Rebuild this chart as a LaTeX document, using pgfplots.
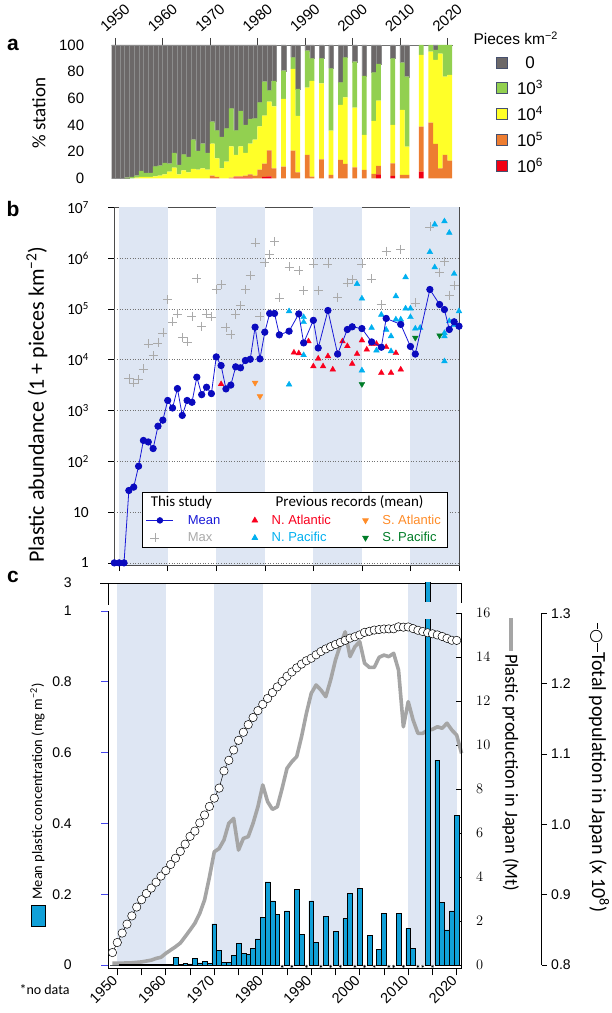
\documentclass[border=0pt]{standalone}
\usepackage{pgfplots}
\pgfplotsset{compat=1.18}
\usepackage{pgfplotstable}
\usepackage{fontspec}
\setmainfont{Liberation Sans}
\newfontfamily\calib{Carlito}
\newfontfamily\dejavu{DejaVu Sans}
\newcommand\fs[1]{\fontsize{#1}{#1}\selectfont}

\definecolor{band}{RGB}{222,230,243}
\definecolor{cgray}{RGB}{108,104,104}
\definecolor{cgreen}{RGB}{146,208,80}
\definecolor{cyellow}{RGB}{255,255,40}
\definecolor{corange}{RGB}{237,125,49}
\definecolor{cred}{RGB}{240,0,20}
\definecolor{legborder}{RGB}{70,80,110}
\definecolor{meanblue}{RGB}{25,25,215}
\definecolor{meandot}{RGB}{10,10,190}
\definecolor{natl}{RGB}{250,0,30}
\definecolor{npac}{RGB}{0,176,240}
\definecolor{satl}{RGB}{255,140,40}
\definecolor{spac}{RGB}{0,125,40}
\definecolor{maxgray}{RGB}{170,170,170}
\definecolor{barblue}{RGB}{16,160,216}
\definecolor{prodgray}{RGB}{165,165,165}
\definecolor{tickblue}{RGB}{70,70,235}

\pgfplotsset{
  sqleg/.style={legend image code/.code={\draw[##1,draw=legborder,line width=0.8pt] (0pt,-5.5pt) rectangle (11pt,5.5pt);}},
  meanleg/.style={legend image code/.code={\draw[mark repeat=2,mark phase=2,##1] plot coordinates {(0pt,0pt) (13.5pt,0pt) (27pt,0pt)};}},
}

% ---------- panel a: share of stations per abundance class (%)
\pgfplotstableread{
year red orange yellow green gray
1949 0 0 0 0 100
1950 0 0 0 0 100
1951 0 0 0 0 100
1952 0 0 0 0.5 99.5
1953 0 0 0 1 99
1954 0 0 0.5 1.5 98
1955 0 0 1 4.5 94.5
1956 0 0 1 3 96
1957 0 0 1 3 96
1958 0 0 1.5 7.5 91
1959 0 0 2 7.5 90.5
1960 0 0 3 8.5 88.5
1961 0 0 5 6 89
1962 0 0 8 11 81
1963 0 0 3 7 90
1964 0 0 6 12 82
1965 0 0 4.5 11.5 84
1966 0 0 7 22 71
1967 0 0 6.5 14 79.5
1968 0 0 7.5 18.5 74
1969 0 0 6.5 12.5 81
1970 0 2 24 16.5 57.5
1971 0 1 14 21 64
1972 0 0 7.5 23.5 69
1973 0 0 12.5 25 62.5
1974 0 0.5 23.5 28.5 47.5
1975 0.5 1 16 18.5 64
1976 0.5 1 22.5 26.5 49.5
1977 0.5 1.5 17 21 60
1978 0.5 2.5 23 18.5 55.5
1979 0 2 27 16 55
1980 0 6.5 32.5 18 43
1981 1 10 36 25.5 27.5
1982 1.5 19.5 36.5 8.5 34
1983 0 7.5 46.5 19 27
1985 0 8.75 50.75 21.25 19.25
1987 0 20.75 61.25 8.75 9.25
1988 0 4.5 42.25 20.25 33
1990 0 17.5 50.5 27.75 4.25
1991 0 1.25 71.75 17 10
1993 0 14.25 57 18.75 10
1995 0 2.5 33.25 46.75 17.5
1997 0 13.75 41.25 17 28
1998 0 10.75 50 30 9.25
2000 0 8.25 44.75 34.5 12.5
2002 0 6.25 26.25 44.25 23.25
2004 0 3.25 39.75 36.5 20.5
2005 3 6.25 49 27.5 14.25
2008 1.75 9.5 28.75 50 10
2010 0 2.5 48.75 35.5 13.25
2011 0 2.5 21.25 52.5 23.75
2014 5 33.75 53.75 7.5 0
2016 0 41.75 53.25 5 0
2017 0 25.75 63 7.5 3.75
2018 0 7.5 86 6.5 0
2019 0 17.5 58.75 23.75 0
2020 0 13.25 64.25 22.5 0
}\stackdata

% ---------- panel b: 1 + pieces km^-2
\pgfplotstableread{
year v
1949 1
1950 1
1951 1
1952 26.6
1953 31
1954 80
1955 257
1956 240
1957 178
1958 491
1959 645
1960 1575
1961 1120
1962 2700
1963 800
1964 1575
1965 1450
1966 4520
1967 2050
1968 2870
1969 2150
1970 11350
1971 7680
1972 2660
1973 3160
1974 7240
1975 6920
1976 9640
1977 10200
1978 43700
1979 10370
1980 34800
1981 81300
1982 81300
1983 30800
1985 36400
1987 79800
1988 21400
1990 59500
1991 17000
1993 93000
1995 12900
1997 39300
1998 44400
2000 41000
2002 22400
2004 17600
2005 64900
2008 49500
2010 18200
2011 12900
2014 241000
2016 122000
2017 97000
2018 39300
2019 55700
2020 45600
}\meandata

\pgfplotstableread{
year v
1952 4300
1953 3500
1954 4100
1955 6600
1956 20500
1957 12000
1958 21400
1959 33700
1960 153000
1961 55700
1962 79800
1963 27600
1964 22400
1965 71800
1966 396000
1967 45600
1968 79800
1969 69800
1970 241000
1971 302000
1972 43700
1973 32000
1974 77500
1975 116000
1976 241000
1977 460000
1978 2000000
1979 71800
1980 811000
1981 1180000
1982 2140000
1983 165000
1985 673000
1987 576000
1988 230000
1990 769000
1991 230000
1993 769000
1995 170000
1997 325000
1998 380000
2000 769000
2002 390000
2004 123000
2005 1370000
2008 1500000
2011 131000
2014 4100000
2016 530000
2017 870000
2018 186000
2019 293000
}\maxdata

\pgfplotstableread{
year v
1971 3300
1986 13800
1987 13400
1989 23000
1990 7400
1991 10500
1992 7400
1993 11700
1994 6400
1995 13000
1996 23000
1997 18500
1998 8300
1999 13000
2000 24000
2001 15800
2002 20500
2003 20500
2004 5500
2005 17700
2006 5500
2007 13500
2008 6400
}\natldata

\pgfplotstableread{
year v
1985 90000
1985 3250
1988 69000
1988 55000
1988 12300
1999 310000
2000 160000
2000 6150
2002 42500
2003 15200
2004 77000
2005 39000
2006 29000
2006 14700
2007 178000
2007 62000
2008 62000
2009 420000
2009 102000
2010 102000
2010 69000
2011 41000
2012 42500
2014 1320000
2015 4600000
2015 660000
2017 5300000
2017 33500
2017 29000
2017 9300
2018 3150000
2018 57500
2019 490000
2019 55000
2019 48000
2020 90000
}\npacdata

\pgfplotstableread{
year v
1978 3500
1979 1900
}\satldata

\pgfplotstableread{
year v
2000 3300
2011 27000
2016 30000
}\spacdata

% ---------- panel c
\pgfplotstableread{
year v
1949 0
1950 0
1951 0.001
1952 0.002
1953 0.002
1954 0.001
1955 0.001
1956 0.001
1957 0.001
1958 0.001
1959 0.001
1960 0.001
1961 0.002
1962 0.022
1963 0.002
1964 0.004
1965 0.003
1966 0.019
1967 0.006
1968 0.011
1969 0.005
1970 0.116
1971 0.042
1972 0.008
1973 0.008
1974 0.028
1975 0.061
1976 0.033
1977 0.030
1978 0.047
1979 0.074
1980 0.134
1981 0.235
1982 0.181
1983 0.144
1985 0.153
1987 0.214
1988 0.087
1990 0.181
1991 0.064
1993 0.137
1995 0.096
1997 0.131
1998 0.202
2000 0.217
2002 0.083
2004 0.044
2005 0.145
2008 0.145
2010 0.103
2011 0.047
2014 3.0
2016 0.579
2017 0.176
2018 0.099
2019 0.153
2020 0.423
}\concdata

\pgfplotstableread{
year v
1984 -0.004
1986 -0.004
1989 -0.004
1992 -0.004
1994 -0.004
1996 -0.004
1999 -0.004
2001 -0.004
2003 -0.004
2006 -0.004
2007 -0.004
2009 -0.004
2012 -0.004
2013 -0.004
2015 -0.004
}\nodata

\pgfplotstableread{
year v
1949 0.08
1950 0.08
1951 0.08
1952 0.1
1953 0.1
1954 0.12
1955 0.14
1956 0.18
1957 0.22
1958 0.3
1959 0.35
1960 0.53
1961 0.68
1962 0.83
1963 1.0
1964 1.29
1965 1.59
1966 1.9
1967 2.35
1968 2.96
1969 4.0
1970 5.15
1971 5.3
1972 5.69
1973 6.45
1974 6.67
1975 5.23
1976 5.76
1977 5.84
1978 6.45
1979 7.2
1980 8.19
1981 7.43
1982 7.08
1983 7.2
1984 8.04
1985 8.95
1986 9.25
1987 9.48
1988 10.39
1989 11.45
1990 12.36
1991 12.74
1992 12.51
1993 12.21
1994 12.97
1995 13.88
1996 14.56
1997 15.16
1998 14.03
1999 14.48
2000 14.71
2001 13.73
2002 13.54
2003 13.54
2004 14.0
2005 14.1
2006 14.03
2007 14.18
2008 13.42
2009 10.84
2010 11.98
2011 11.15
2012 10.54
2013 10.54
2014 10.69
2015 10.72
2016 10.84
2017 10.77
2018 11.0
2019 10.69
2020 10.46
2021 9.63
}\plasticdata

\pgfplotstableread{
year v
1949 0.8177
1950 0.8320
1951 0.8454
1952 0.8581
1953 0.8698
1954 0.8824
1955 0.8928
1956 0.9017
1957 0.9093
1958 0.9177
1959 0.9264
1960 0.9342
1961 0.9429
1962 0.9518
1963 0.9616
1964 0.9718
1965 0.9828
1966 0.9904
1967 1.0020
1968 1.0133
1969 1.0254
1970 1.0372
1971 1.0515
1972 1.0760
1973 1.0910
1974 1.1057
1975 1.1194
1976 1.1309
1977 1.1417
1978 1.1519
1979 1.1616
1980 1.1706
1981 1.1790
1982 1.1873
1983 1.1954
1984 1.2031
1985 1.2105
1986 1.2166
1987 1.2224
1988 1.2278
1989 1.2326
1990 1.2361
1991 1.2410
1992 1.2457
1993 1.2494
1994 1.2526
1995 1.2557
1996 1.2586
1997 1.2616
1998 1.2647
1999 1.2667
2000 1.2693
2001 1.2729
2002 1.2744
2003 1.2762
2004 1.2769
2005 1.2777
2006 1.2779
2007 1.2780
2008 1.2808
2009 1.2803
2010 1.2806
2011 1.2783
2012 1.2759
2013 1.2741
2014 1.2724
2015 1.2709
2016 1.2693
2017 1.2671
2018 1.2644
2019 1.2617
2020 1.2615
}\popdata

\begin{document}
\begin{tikzpicture}
\useasboundingbox (0pt,0pt) rectangle (612pt,1013pt);

% ======================= panel a
\begin{axis}[
  at={(111.7pt,834.7pt)}, anchor=south west,
  scale only axis, width=341.3pt, height=133.3pt,
  xmin=1949.3, xmax=2021.2, ymin=0, ymax=100,
  ybar stacked, bar width=1,
  axis x line*=top, axis y line*=left,
  y axis line style={draw=none},
  x axis line style={black!55, line width=0.6pt},
  tick align=outside, major tick length=7pt,
  xtick={1950,1960,1970,1980,1990,2000,2010,2020},
  xticklabels={1950,1960,1970,1980,1990,2000,2010,2020},
  xtick style={black!75, line width=0.6pt},
  xticklabel style={font=\fs{15}, yshift=20pt, rotate=42, anchor=center},
  ytick={0,20,40,60,80,100},
  yticklabels={0,20,40,60,80,100},
  ytick style={draw=none},
  yticklabel style={font=\fs{15}, anchor=east, xshift=-17pt},
  legend style={at={(1.126,0.93)}, anchor=north west, draw=none, fill=none, font=\fs{17}, row sep=6pt, inner sep=0pt,
    /tikz/every odd column/.append style={column sep=7pt}},
  legend cell align=center,
  reverse legend,
]
\addplot[fill=cred, draw=none, sqleg] table[x expr=\thisrow{year}+0.5, y=red] {\stackdata};
\addlegendentry{10\textsuperscript{6}}
\addplot[fill=corange, draw=none, sqleg] table[x expr=\thisrow{year}+0.5, y=orange] {\stackdata};
\addlegendentry{10\textsuperscript{5}}
\addplot[fill=cyellow, draw=none, sqleg] table[x expr=\thisrow{year}+0.5, y=yellow] {\stackdata};
\addlegendentry{10\textsuperscript{4}}
\addplot[fill=cgreen, draw=none, sqleg] table[x expr=\thisrow{year}+0.5, y=green] {\stackdata};
\addlegendentry{10\textsuperscript{3}}
\addplot[fill=cgray, draw=black!45, line width=0.25pt, sqleg] table[x expr=\thisrow{year}+0.5, y=gray] {\stackdata};
\addlegendentry{0}
\end{axis}

% ======================= panel b
\begin{axis}[
  at={(114.3pt,447.8pt)}, anchor=south west,
  scale only axis, width=344.7pt, height=357.9pt,
  xmin=1949, xmax=2020, ymode=log, ymin=0.9, ymax=1e7,
  axis line style={black!70, line width=0.6pt},
  tick align=outside, major tick length=6pt, tick pos=left,
  xtick={1950,1960,1970,1980,1990,2000,2010,2020}, xticklabels={},
  ytick={1,10,100,1000,10000,100000,1000000,10000000},
  yticklabels={1,10,10\textsuperscript{2},10\textsuperscript{3},10\textsuperscript{4},10\textsuperscript{5},10\textsuperscript{6},10\textsuperscript{7}},
  yticklabel style={font=\calib\fs{15.5}, xshift=-16pt},
  yminorticks=false,
  tick style={black, line width=0.6pt},
  clip mode=individual,
  legend columns=3,
  legend cell align=left,
  legend style={at={(0.0795,0.2054)}, anchor=north west, draw=black, line width=0.6pt, fill=white,
    font=\fs{13}, inner xsep=4pt, inner ysep=2pt, row sep=2.5pt,
    /tikz/every even column/.append style={column sep=24pt},
    /tikz/every odd column/.append style={column sep=12pt},
    /tikz/column 4/.append style={column sep=33pt}},
]
\fill[band] (axis cs:1950,0.9) rectangle (axis cs:1960,1e7);
\fill[band] (axis cs:1970,0.9) rectangle (axis cs:1980,1e7);
\fill[band] (axis cs:1990,0.9) rectangle (axis cs:2000,1e7);
\fill[band] (axis cs:2010,0.9) rectangle (axis cs:2020,1e7);
\pgfplotsinvokeforeach{1,10,100,1000,10000,100000,1000000}{
  \draw[black!55, dotted, line width=0.6pt] (axis cs:1949,#1) -- (axis cs:2020,#1);
}
\addlegendimage{empty legend}\addlegendentry{\makebox[0pt][l]{\hspace*{-37pt}\calib\fs{15}This study}}
\addlegendimage{empty legend}\addlegendentry{\makebox[0pt][l]{\hspace*{4pt}\calib\fs{15}Previous records (mean)}}
\addlegendimage{empty legend}\addlegendentry{}
\addlegendimage{meanblue, line width=0.8pt, mark=*, mark size=2.8pt, mark options={meandot}, meanleg}\addlegendentry{\textcolor{meanblue}{Mean}}
\addlegendimage{only marks, natl, mark=triangle*, mark size=3.3pt}\addlegendentry{\textcolor{natl}{N. Atlantic}}
\addlegendimage{only marks, satl, mark=triangle*, mark size=3.3pt, mark options={rotate=180}}\addlegendentry{\textcolor{satl}{S. Atlantic}}
\addlegendimage{only marks, maxgray, mark=+, mark size=4.5pt}\addlegendentry{\textcolor{maxgray}{Max}}
\addlegendimage{only marks, npac, mark=triangle*, mark size=3.3pt}\addlegendentry{\textcolor{npac}{N. Pacific}}
\addlegendimage{only marks, spac, mark=triangle*, mark size=3.3pt, mark options={rotate=180}}\addlegendentry{\textcolor{spac}{S. Pacific}}

\addplot[only marks, mark=+, mark size=4.5pt, maxgray, line width=0.5pt, forget plot] table {\maxdata};
\addplot[only marks, mark=triangle*, mark size=3.3pt, natl, forget plot] table {\natldata};
\addplot[only marks, mark=triangle*, mark size=3.3pt, npac, forget plot] table {\npacdata};
\addplot[only marks, mark=triangle*, mark size=3.3pt, satl, mark options={rotate=180}, forget plot] table {\satldata};
\addplot[only marks, mark=triangle*, mark size=3.3pt, spac, mark options={rotate=180}, forget plot] table {\spacdata};
\addplot[meanblue, line width=0.8pt, mark=*, mark size=3.2pt, mark options={meandot}, forget plot] table {\meandata};
\end{axis}

% ======================= panel c: frame, bands, left axis
\begin{axis}[
  at={(108.3pt,44.7pt)}, anchor=south west,
  scale only axis, width=353.4pt, height=385.3pt,
  xmin=1948.14, xmax=2021.03, ymin=-0.0093, ymax=1.079,
  axis x line*=bottom, axis y line*=left,
  y axis line style={draw=none},
  x axis line style={black, line width=0.8pt},
  tick align=outside, major tick length=7pt, minor tick length=7pt,
  xtick={1950,1960,1970,1980,1990,2000,2010,2020},
  xticklabels={1950,1960,1970,1980,1990,2000,2010,2020},
  minor xtick={1955,1965,1975,1985,1995,2005,2015},
  xtick style={black, line width=0.8pt},
  xticklabel style={font=\fs{14.5}, rotate=45, anchor=east},
  ytick={0,0.2,0.4,0.6,0.8,1,1.079},
  yticklabels={0,0.2,0.4,0.6,0.8,1,3},
  ytick style={tickblue, line width=0.6pt},
  yticklabel style={font=\fs{14}, xshift=-26pt},
  clip=false,
]
\fill[band] (axis cs:1950,0) rectangle (axis cs:1960,1.079);
\fill[band] (axis cs:1970,0) rectangle (axis cs:1980,1.079);
\fill[band] (axis cs:1990,0) rectangle (axis cs:2000,1.079);
\fill[band] (axis cs:2010,0) rectangle (axis cs:2020,1.079);
\draw[black, line width=0.8pt] (axis cs:1948.14,-0.0093) -- (axis cs:1948.14,1.0);
\draw[black, line width=0.8pt] (axis cs:1948.14,1.017) -- (axis cs:1948.14,1.079) -- (axis cs:2021.03,1.079) -- (axis cs:2021.03,1.023);
\draw[black, line width=0.8pt] (axis cs:1948.14,1.079) -- ++(-8pt,0pt);
\end{axis}

% ======================= panel c: plastic production
\begin{axis}[
  at={(108.3pt,44.7pt)}, anchor=south west,
  scale only axis, width=353.4pt, height=385.3pt,
  xmin=1948.14, xmax=2021.03, ymin=-0.150, ymax=17.38,
  hide x axis, axis y line*=right, y axis line style={draw=none},
  ytick={0,2,4,6,8,10,12,14,16},
  tick align=inside, major tick length=6pt,
  ytick style={black, line width=0.7pt},
  yticklabel style={font=\fs{14}, xshift=11pt},
  clip=false,
]
\addplot[prodgray, line width=3.6pt, line join=round, no marks] table {\plasticdata};
\draw[black, line width=0.8pt] (axis cs:2021.03,-0.15) -- (axis cs:2021.03,16);
\end{axis}

% ======================= panel c: bars
\begin{axis}[
  at={(108.3pt,44.7pt)}, anchor=south west,
  scale only axis, width=353.4pt, height=385.3pt,
  xmin=1948.14, xmax=2021.03, ymin=-0.0093, ymax=1.079,
  hide axis, clip mode=individual,
]
\addplot[ybar, bar width=1, fill=barblue, draw=black, line width=0.5pt] table {\concdata};
\fill[band] (axis cs:2013.4,0.978) rectangle (axis cs:2014.6,1.025);
\addplot[only marks, mark=asterisk, mark size=1.6pt, black, line width=0.4pt] table {\nodata};
\end{axis}

% ======================= panel c: population
\begin{axis}[
  at={(108.3pt,44.7pt)}, anchor=south west,
  scale only axis, width=353.4pt, height=385.3pt,
  xmin=1948.14, xmax=2021.03, ymin=0.7953, ymax=1.3431,
  hide x axis, axis y line*=right, y axis line style={draw=none},
  ytick={0.8,0.9,1.0,1.1,1.2,1.3},
  yticklabels={0.8,0.9,1.0,1.1,1.2,1.3},
  major tick length=0pt,
  yticklabel style={font=\fs{14}, xshift=86pt},
  clip=false,
]
\addplot[black, line width=0.5pt, mark=*, mark size=4.2pt, mark options={fill=white, draw=black, line width=0.5pt}] table {\popdata};
\draw[black, line width=0.8pt] (axis cs:2037.53,0.8) -- (axis cs:2037.53,1.3);
\pgfplotsinvokeforeach{0.8,0.9,1.0,1.1,1.2,1.3}{
  \draw[black, line width=0.8pt] (axis cs:2037.53,#1) -- ++(5pt,0pt);
}
\end{axis}

% ======================= labels
\node[font=\bfseries\fs{21}] at (13pt,968pt) {a};
\node[font=\bfseries\fs{21}] at (13pt,804pt) {b};
\node[font=\bfseries\fs{21}] at (13pt,436pt) {c};
\node[rotate=90, font=\calib\fs{19}] at (39pt,900pt) {\% station};
\node[anchor=west, font=\fs{15.5}] at (470pt,975pt) {Pieces km\textsuperscript{−2}};
\node[rotate=90, anchor=west, inner sep=0pt, font=\calib\fs{22}] at (37pt,450pt) {Plastic abundance (1 + pieces km\textsuperscript{−2})};
\node[rotate=90, anchor=west, inner sep=0pt, font=\calib\fs{14.5}] at (38pt,86pt) {\setlength\fboxsep{0pt}\setlength\fboxrule{0.6pt}\fcolorbox{black}{barblue}{\rule[-3pt]{0pt}{14pt}\rule{21pt}{0pt}}\hspace{5pt}Mean plastic concentration (mg m\textsuperscript{−2})};
\node[rotate=-90, anchor=west, inner sep=0pt, font=\calib\fs{18.5}] at (510.7pt,395pt) {\textcolor{prodgray}{\rule[4pt]{33pt}{3.5pt}}\hspace{3pt}Plastic production in Japan (Mt)};
\node[rotate=-90, anchor=west, inner sep=0pt, font=\calib\fs{20}] at (599pt,390pt) {\rule[5pt]{6pt}{0.8pt}{\dejavu\fs{16}○}\rule[5pt]{9pt}{0.8pt}Total population in Japan (x 10\textsuperscript{8})};
\node[anchor=west, font=\calib\fs{14}] at (16pt,23pt) {*no data};
\end{tikzpicture}
\end{document}
